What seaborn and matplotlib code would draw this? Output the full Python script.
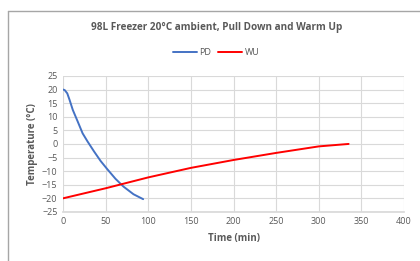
import numpy as np
import pandas as pd
import seaborn as sns
import matplotlib
matplotlib.use('Agg')
import matplotlib.pyplot as plt
from matplotlib.lines import Line2D

# pull down (PD) and warm up (WU) curves
pd_time = [0, 2, 5, 7.7, 11.5, 17.3, 23, 28.8, 36.5, 44.2, 52, 61.5, 71, 82.7, 94]
pd_temp = [20, 19.8, 18.6, 16.2, 12.5, 8.2, 3.9, 0.9, -2.8, -6.3, -9.3, -12.8, -15.7, -18.5, -20.3]
wu_time = [0, 50, 100, 150, 200, 250, 300, 335]
wu_temp = [-20, -16.3, -12.3, -8.8, -5.9, -3.3, -0.9, 0]

x_ticks = [0, 50, 100, 150, 200, 250, 300, 350, 400]
y_ticks = [25, 20, 15, 10, 5, 0, -5, -10, -15, -20, -25]

df = pd.concat([
    pd.DataFrame({'Time': pd_time, 'Temp': pd_temp, 'Run': 'PD'}),
    pd.DataFrame({'Time': wu_time, 'Temp': wu_temp, 'Run': 'WU'}),
])

sns.set_theme(style='whitegrid')
plt.rcParams['font.family'] = ['Open Sans', 'DejaVu Sans']

fig = plt.figure(figsize=(4.2, 2.61), dpi=100)
ax = fig.add_axes([0.15, 0.188, 0.812, 0.521])

palette = {'PD': '#4472C4', 'WU': '#FF0000'}
sns.lineplot(data=df, x='Time', y='Temp', hue='Run', palette=palette,
             linewidth=1.4, ax=ax, legend=False, sort=False)

ax.set_xlim(0, 400)
ax.set_ylim(-25, 25)
ax.set_xticks(x_ticks)
ax.set_yticks(y_ticks)
ax.tick_params(axis='both', labelsize=6.5, colors='#595959', length=0, pad=4)
ax.grid(True, color='#D9D9D9', linewidth=0.8)
for s in ax.spines.values():
    s.set_visible(False)
ax.spines['bottom'].set_visible(True)
ax.spines['bottom'].set_color('#D9D9D9')

ax.set_xlabel('Time (min)', fontsize=7, color='#595959', fontweight='bold', labelpad=5)
ax.set_ylabel('Temperature (°C)', fontsize=7, color='#595959', fontweight='bold', labelpad=3)

fig.text(0.515, 0.895, '98L Freezer 20°C ambient, Pull Down and Warm Up',
         ha='center', va='center', fontsize=7.2, color='#595959', fontweight='bold')

handles = [Line2D([], [], color=palette[k], linewidth=1.4) for k in ['PD', 'WU']]
fig.legend(handles, ['PD', 'WU'], loc='center', bbox_to_anchor=(0.515, 0.80),
           ncol=2, frameon=False, fontsize=6.5, labelcolor='#595959',
           handlelength=2.6, handletextpad=0.3, columnspacing=0.8)

# chart frame (cropped on right/bottom)
fig.add_artist(Line2D([0.018, 0.018], [0, 0.958], color='#A6A6A6', linewidth=1, transform=fig.transFigure))
fig.add_artist(Line2D([0.018, 1], [0.958, 0.958], color='#A6A6A6', linewidth=1, transform=fig.transFigure))

fig.savefig('out.png', dpi=100)
